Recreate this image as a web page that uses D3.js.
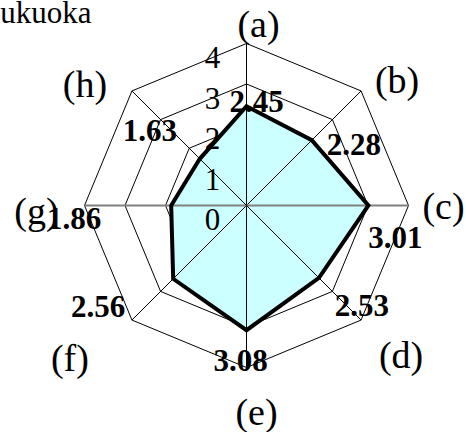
<!DOCTYPE html>
<html>
<head>
<meta charset="utf-8">
<script src="https://cdn.jsdelivr.net/npm/d3@7"></script>
<style>
  html, body { margin: 0; padding: 0; background: #fff; }
  svg { display: block; font-family: 'Liberation Serif', 'Times New Roman', serif; }
</style>
</head>
<body>
<div id="chart"></div>
<script>
// chart values
const title = 'Fukuoka';
const categories = ['(a)', '(b)', '(c)', '(d)', '(e)', '(f)', '(g)', '(h)'];
const values = [2.45, 2.28, 3.01, 2.53, 3.08, 2.56, 1.86, 1.63];
const tickValues = [0, 1, 2, 3, 4];

class RadarChart {

    constructor(_config) {
        this.config = {
            parentElement: _config.parentElement,
            containerWidth: 466, containerHeight: 432,
            center: { x: 246.5, y: 205.5 },
            outerRadius: 162,
            // text nudges (px) relative to the point they belong to
            valueNudge: [[10, -5], [42, 4], [27, 32], [43, 28], [-6, 30], [-75, 28], [-97, 13], [-50, -28]],
            axisNudge: [[12, -20], [36, -11], [35, 0], [40, 35], [10, 44], [-62, 38], [-48, 5], [-47, -7]]
        };
        this.initVis();
    }

    initVis() {
        let vis = this;

        vis.svg = d3.select(vis.config.parentElement).append('svg')
            .attr('width', vis.config.containerWidth)
            .attr('height', vis.config.containerHeight);

        vis.chart = vis.svg.append('g')
            .attr('transform', `translate(${vis.config.center.x},${vis.config.center.y})`);

        // radius scale and angle per category
        vis.rScale = d3.scaleLinear()
            .domain([0, d3.max(tickValues)])
            .range([0, vis.config.outerRadius]);

        vis.angle = d3.scalePoint()
            .domain(categories)
            .range([0, 2 * Math.PI * (categories.length - 1) / categories.length]);

        vis.point = (cat, v) => {
            const a = vis.angle(cat);
            return [vis.rScale(v) * Math.sin(a), -vis.rScale(v) * Math.cos(a)];
        };

        vis.updateVis();
    }

    updateVis() {
        let vis = this;
        const line = d3.line().curve(d3.curveLinearClosed);

        // rings
        vis.chart.append('g')
            .selectAll('path')
            .data(tickValues.filter(t => t > 0))
            .join('path')
            .attr('d', t => line(categories.map(c => vis.point(c, t))))
            .attr('fill', 'none')
            .attr('stroke', '#000')
            .attr('stroke-width', 1);

        // filled area
        const pts = categories.map((c, i) => vis.point(c, values[i]));
        vis.chart.append('path')
            .attr('d', line(pts))
            .attr('fill', '#ccffff')
            .attr('stroke', 'none');

        // spokes
        const top = d3.max(tickValues);
        vis.chart.append('g')
            .selectAll('line')
            .data(categories)
            .join('line')
            .attr('x1', 0).attr('y1', 0)
            .attr('x2', c => vis.point(c, top)[0])
            .attr('y2', c => vis.point(c, top)[1])
            .attr('stroke', (c, i) => i % 4 === 2 ? '#808080' : '#000')
            .attr('stroke-width', (c, i) => i % 4 === 2 ? 2 : 1);

        // outline
        vis.chart.append('path')
            .attr('d', line(pts))
            .attr('fill', 'none')
            .attr('stroke', '#000')
            .attr('stroke-width', 4)
            .attr('stroke-linejoin', 'miter');

        // value axis ticks
        vis.chart.append('g')
            .selectAll('text')
            .data(tickValues)
            .join('text')
            .attr('x', -34)
            .attr('y', t => -vis.rScale(t) + 14)
            .attr('text-anchor', 'middle')
            .attr('dominant-baseline', 'central')
            .style('font-size', '31px')
            .text(t => t);

        // value labels
        const fmt = d3.format('.2f');
        vis.chart.append('g')
            .selectAll('text')
            .data(values)
            .join('text')
            .attr('x', (d, i) => pts[i][0] + vis.config.valueNudge[i][0])
            .attr('y', (d, i) => pts[i][1] + vis.config.valueNudge[i][1])
            .attr('text-anchor', 'middle')
            .attr('dominant-baseline', 'central')
            .style('font-size', '31px')
            .style('font-weight', 'bold')
            .text(d => fmt(d));

        // category labels
        vis.chart.append('g')
            .selectAll('text')
            .data(categories)
            .join('text')
            .attr('x', (c, i) => vis.point(c, top)[0] + vis.config.axisNudge[i][0])
            .attr('y', (c, i) => vis.point(c, top)[1] + vis.config.axisNudge[i][1])
            .attr('text-anchor', 'middle')
            .attr('dominant-baseline', 'central')
            .style('font-size', '38px')
            .text(c => c);

        // title, partly cut off at the left edge
        vis.svg.append('text')
            .attr('x', -17)
            .attr('y', 23)
            .style('font-size', '31px')
            .text(title);
    }
}

new RadarChart({ parentElement: '#chart' });
</script>
</body>
</html>
